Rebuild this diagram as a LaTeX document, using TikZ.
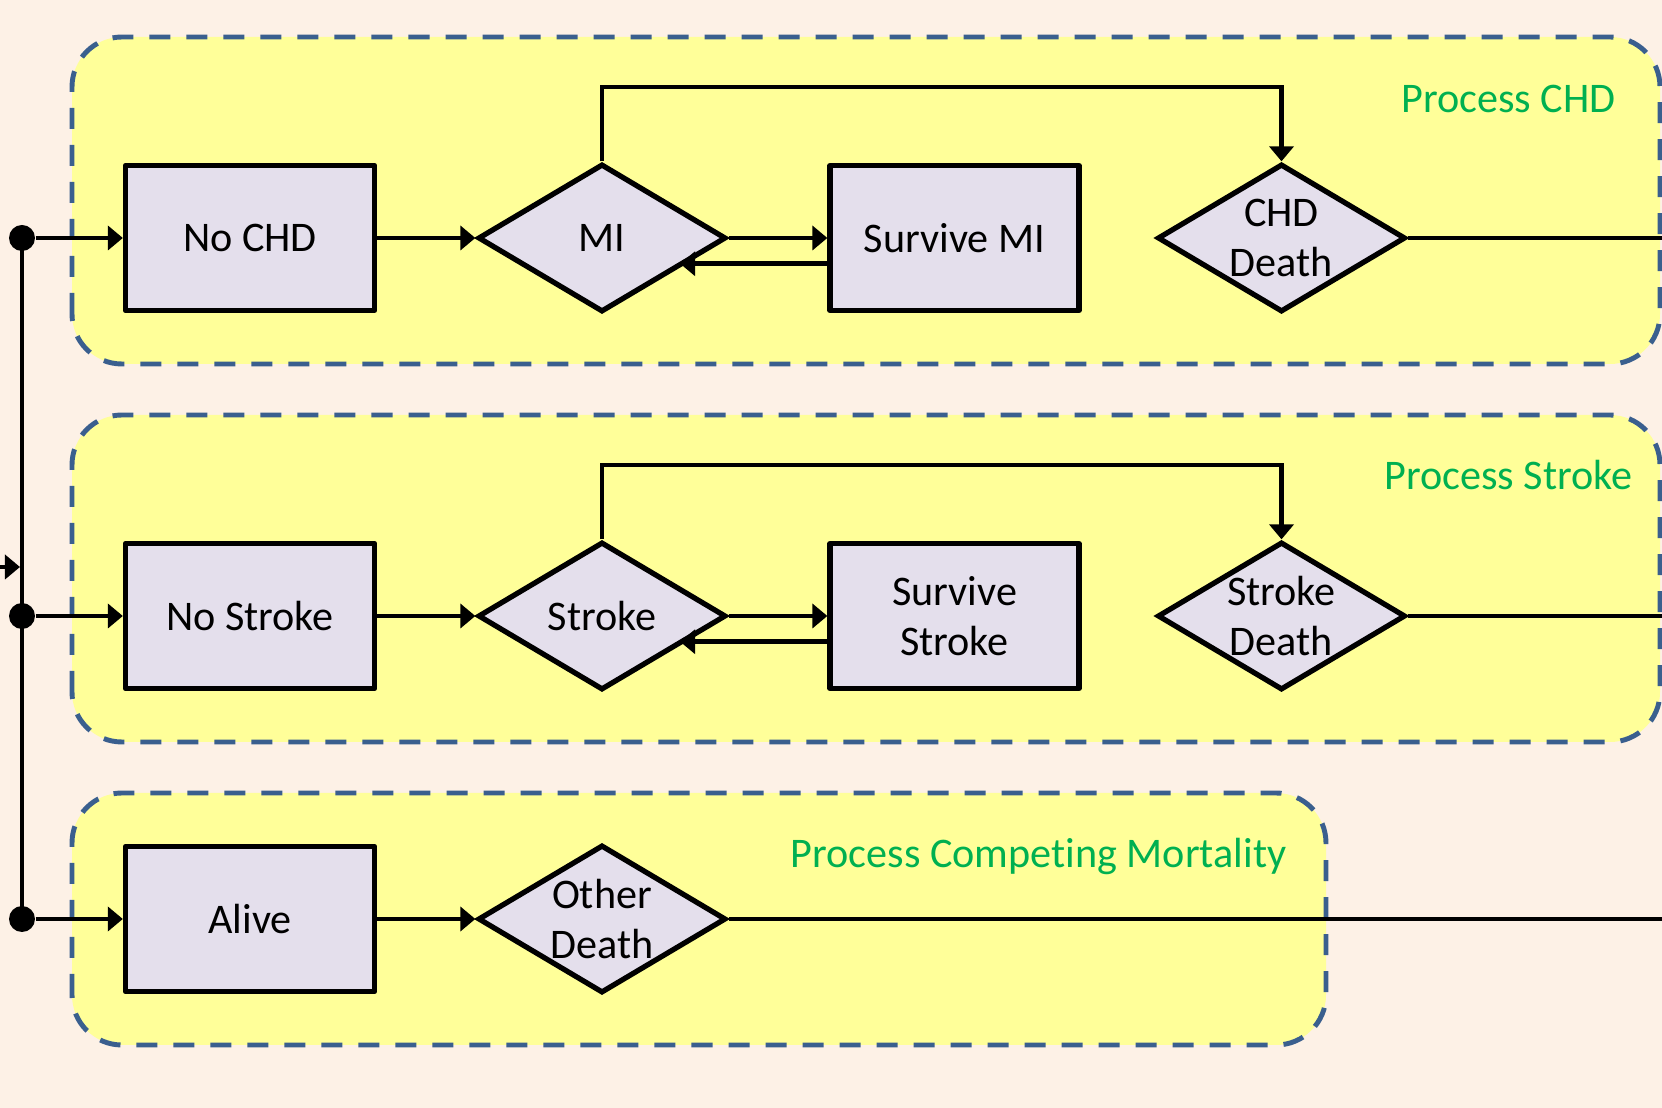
\documentclass[tikz,border=0pt]{standalone}
\usepackage{fontspec}
\setmainfont{Carlito}[RawFeature={-liga;-clig;-calt;-dlig}]
\usetikzlibrary{shapes.geometric,arrows.meta}
\definecolor{bgpeach}{HTML}{FDF1E6}
\definecolor{grpyellow}{HTML}{FFFF99}
\definecolor{grpblue}{HTML}{3A5F8E}
\definecolor{boxfill}{HTML}{E4DFEC}
\definecolor{lblgreen}{HTML}{00B050}
\begin{document}
\begin{tikzpicture}[>={Triangle[length=1.5mm,width=2.4mm]},
  grp/.style={fill=grpyellow, draw=grpblue, line width=1.4pt, rounded corners=0.5cm,
    dash pattern=on 0.21cm off 0.16cm},
  box/.style={draw, fill=boxfill, line width=1.5pt, line join=round,
    minimum width=2.49cm, minimum height=1.45cm, font=\fontsize{12}{14.4}\selectfont},
  dec/.style={diamond, draw, fill=boxfill, line width=1.5pt, aspect=1.65, inner sep=0pt,
    minimum width=2.48cm, minimum height=1.48cm, align=center,
    font=\fontsize{12}{14.4}\selectfont},
  ttl/.style={anchor=base east, inner sep=0pt, text=lblgreen, font=\fontsize{12}{14.4}\selectfont},
  jdot/.style={circle, fill, inner sep=0pt, minimum size=0.26cm},
  conn/.style={line width=1.35pt}]
  \path[use as bounding box, fill=bgpeach] (0,0) rectangle (16.62,11.08);

  % Process groups
  \draw[grp] (0.72,7.44) rectangle (16.60,10.71);
  \draw[grp] (0.72,3.66) rectangle (16.60,6.93);
  \draw[grp] (0.72,0.63) rectangle (13.26,3.15);
  \node[ttl] (tchd) at (16.16,9.95) {Process CHD};
  \node[ttl] (tstr) at (16.33,6.18) {Process Stroke};
  \node[ttl] (tmort) at (12.87,2.40) {Process Compet\kern0pt ing Mortality};

  % CHD
  \node[box] (nochd) at (2.50,8.70) {No CHD};
  \node[dec] (mi) at (6.02,8.70) {MI};
  \node[box] (smi) at (9.545,8.70) {Survive MI};
  \node[dec] (chdd) at (12.815,8.70) {CHD\\Death};
  \coordinate (top1) at (0,10.21);
  \coordinate (r1) at (16.62,8.70);
  \draw[conn, ->] (nochd) -- (mi);
  \draw[conn, ->] (mi) -- (smi);
  \draw[conn, ->, shorten >=-0.06cm] (mi.-17 -| smi.west) -- (mi.-17);
  \draw[conn, ->] (mi.north) -- (mi.north |- top1) -| (chdd.north);
  \draw[conn] (chdd) -- (r1);

  % Stroke
  \node[box] (nostr) at (2.50,4.92) {No Stroke};
  \node[dec] (str) at (6.02,4.92) {Stroke};
  \node[box, align=center] (sstr) at (9.545,4.92) {Survive\\Stroke};
  \node[dec] (strd) at (12.815,4.92) {Stroke\\Death};
  \coordinate (top2) at (0,6.43);
  \coordinate (r2) at (16.62,4.92);
  \draw[conn, ->] (nostr) -- (str);
  \draw[conn, ->] (str) -- (sstr);
  \draw[conn, ->, shorten >=-0.06cm] (str.-17 -| sstr.west) -- (str.-17);
  \draw[conn, ->] (str.north) -- (str.north |- top2) -| (strd.north);
  \draw[conn] (strd) -- (r2);

  % Competing mortality
  \node[box] (alive) at (2.50,1.89) {Alive};
  \node[dec] (othd) at (6.02,1.89) {Other\\Death};
  \coordinate (r3) at (16.62,1.89);
  \draw[conn, ->] (alive) -- (othd);
  \draw[conn] (othd) -- (r3);

  % Entry and branching
  \node[jdot] (d1) at (0.22,8.70) {};
  \node[jdot] (d2) at (0.22,4.92) {};
  \node[jdot] (d3) at (0.22,1.89) {};
  \coordinate (in) at (0,5.41);
  \draw[conn] (d1.center) -- (d3.center);
  \draw[conn, ->, shorten >=0.02cm] (in) -- (in -| d1);
  \draw[conn, ->] (d1) -- (nochd);
  \draw[conn, ->] (d2) -- (nostr);
  \draw[conn, ->] (d3) -- (alive);
\end{tikzpicture}
\end{document}
